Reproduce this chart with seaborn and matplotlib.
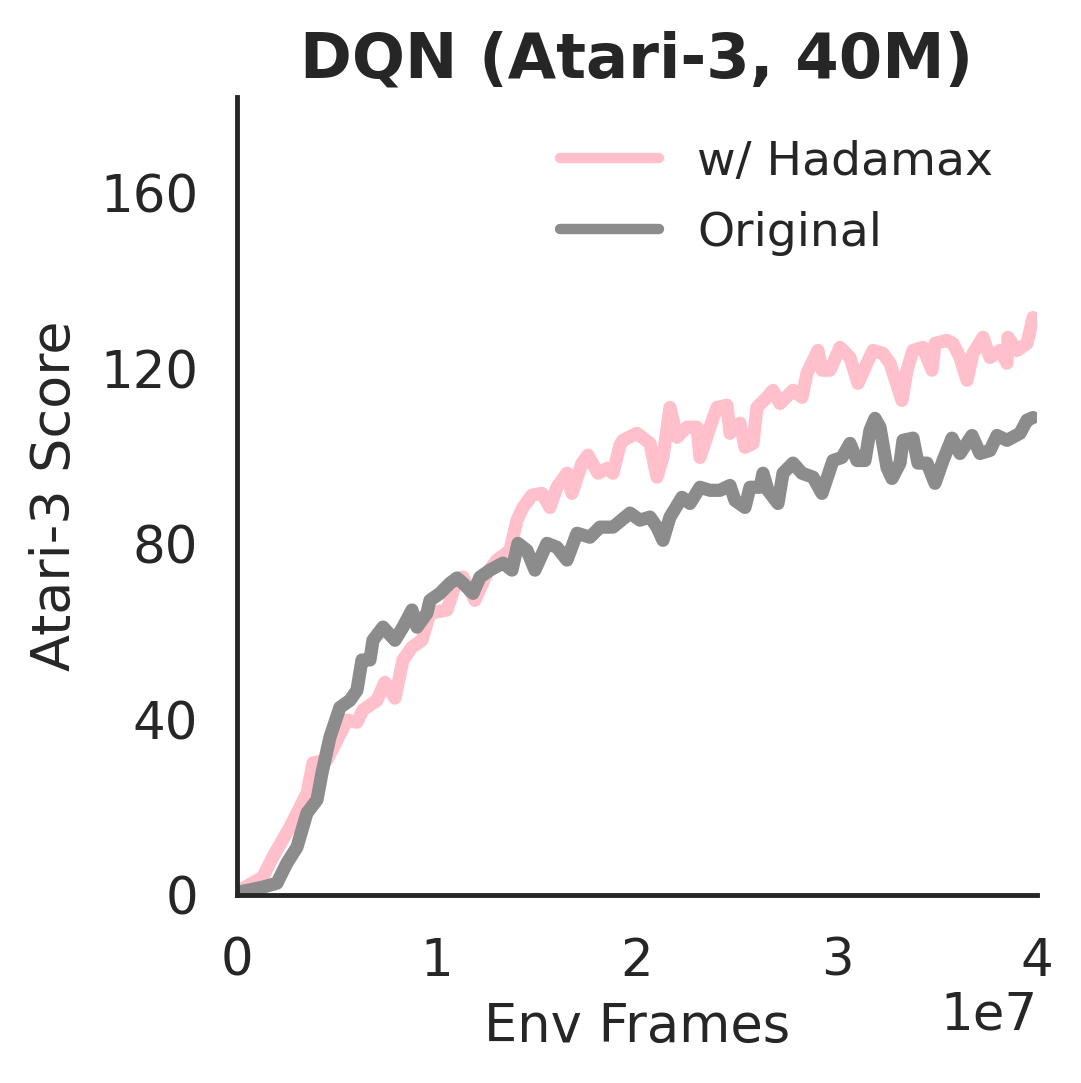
import numpy as np
import pandas as pd
import matplotlib
matplotlib.use("Agg")
import matplotlib.pyplot as plt
import seaborn as sns

# env frames in units of 1e7, scores
hadamax_x = [0.015, 0.13, 0.18, 0.265, 0.35, 0.38, 0.45, 0.50, 0.55, 0.60, 0.63, 0.70,
             0.74, 0.79, 0.83, 0.875, 0.925, 0.965, 1.05, 1.10, 1.13, 1.19, 1.25, 1.30,
             1.365, 1.40, 1.43, 1.475, 1.525, 1.565, 1.60, 1.65, 1.675, 1.725, 1.755,
             1.805, 1.85, 1.88, 1.915, 1.93, 2.00, 2.065, 2.10, 2.13, 2.165, 2.20, 2.25,
             2.30, 2.315, 2.365, 2.40, 2.45, 2.465, 2.515, 2.54, 2.58, 2.60, 2.65, 2.68,
             2.715, 2.78, 2.825, 2.85, 2.905, 2.925, 2.965, 3.015, 3.065, 3.105, 3.15,
             3.18, 3.23, 3.265, 3.325, 3.35, 3.38, 3.43, 3.475, 3.49, 3.55, 3.58, 3.615,
             3.65, 3.68, 3.73, 3.765, 3.815, 3.85, 3.855, 3.90, 3.95, 3.98]
hadamax_y = [1.1, 4.1, 8.7, 15.5, 23.2, 30.1, 30.8, 35.3, 39.9, 39.4, 42.2, 44.4,
             48.5, 44.9, 53.6, 56.5, 58.1, 64.3, 65.0, 71.8, 72.5, 67.2, 73.4, 76.4,
             78.6, 85.5, 88.4, 91.2, 91.6, 88.4, 93.0, 96.2, 91.6, 98.5, 100.3,
             96.2, 97.3, 96.2, 102.6, 103.7, 105.3, 103.0, 95.3, 99.8, 111.2, 104.4, 106.7,
             106.7, 99.8, 106.7, 111.2, 111.7, 105.3, 107.6, 102.1, 103.0, 111.2, 113.5, 115.1,
             112.1, 115.1, 113.5, 119.0, 124.2, 119.7, 119.7, 124.9, 122.6, 116.7, 121.3,
             124.2, 123.5, 121.3, 112.8, 119.7, 124.2, 124.9, 119.7, 125.8, 126.5, 125.8, 122.6,
             117.4, 123.5, 127.2, 122.6, 124.2, 121.3, 127.2, 124.2, 125.8, 131.7]

original_x = [0.015, 0.13, 0.20, 0.25, 0.30, 0.35, 0.40, 0.425, 0.465, 0.515, 0.565, 0.60,
              0.625, 0.665, 0.68, 0.73, 0.79, 0.83, 0.875, 0.90, 0.95, 0.965, 1.015, 1.065,
              1.10, 1.13, 1.18, 1.215, 1.265, 1.33, 1.375, 1.405, 1.45, 1.49, 1.55, 1.60,
              1.65, 1.70, 1.765, 1.815, 1.88, 1.965, 2.015, 2.065, 2.10, 2.13, 2.165, 2.225,
              2.265, 2.315, 2.365, 2.415, 2.465, 2.49, 2.54, 2.565, 2.615, 2.63, 2.655, 2.705,
              2.73, 2.78, 2.825, 2.88, 2.925, 2.98, 3.025, 3.065, 3.10, 3.14, 3.165, 3.19,
              3.215, 3.25, 3.275, 3.315, 3.33, 3.38, 3.405, 3.45, 3.49, 3.53, 3.575, 3.615,
              3.675, 3.715, 3.765, 3.80, 3.85, 3.915, 3.95, 3.98]
original_y = [0.7, 1.8, 2.7, 7.3, 10.9, 18.7, 21.7, 27.8, 36.0, 42.8, 44.4, 46.7,
              53.6, 53.6, 58.1, 61.1, 58.1, 61.1, 65.0, 61.1, 64.3, 67.2, 68.8, 71.1,
              72.3, 71.1, 68.8, 72.5, 74.1, 75.7, 74.1, 80.2, 78.6, 74.1, 80.2, 79.3,
              76.4, 82.5, 81.6, 83.9, 83.9, 87.1, 85.5, 86.2, 83.9, 80.9, 86.2, 90.7,
              89.3, 93.0, 92.3, 92.3, 93.4, 90.0, 88.4, 93.0, 93.0, 96.2, 92.3, 89.3,
              96.2, 98.5, 96.2, 95.3, 91.6, 99.1, 99.8, 103.0, 99.1, 99.1, 106.0, 108.7,
              106.7, 97.5, 95.0, 98.5, 103.7, 104.2, 98.5, 98.5, 93.9, 99.1, 104.2, 100.7,
              104.8, 100.7, 101.4, 104.8, 103.7, 105.3, 108.3, 108.9]

series_names = ["w/ Hadamax", "Original"]
series_colors = ["pink", "#8c8c8c"]
x_ticks = [0, 1e7, 2e7, 3e7, 4e7]
y_ticks = [0, 40, 80, 120, 160]

df = pd.concat([
    pd.DataFrame({"frames": np.array(hadamax_x) * 1e7, "score": hadamax_y, "method": series_names[0]}),
    pd.DataFrame({"frames": np.array(original_x) * 1e7, "score": original_y, "method": series_names[1]}),
])

sns.set_theme(style="white")
plt.rcParams["font.family"] = ["DejaVu Sans"]

fig = plt.figure(figsize=(10.81, 10.83), dpi=100)
ax = fig.add_axes([0.2192, 0.1736, 0.9593 - 0.2192, 0.9104 - 0.1736])

sns.lineplot(data=df, x="frames", y="score", hue="method", hue_order=series_names,
             palette=series_colors, linewidth=9.5, sort=False, ax=ax,
             solid_capstyle="round", solid_joinstyle="round")

ax.set_xlim(0, 4e7)
ax.set_ylim(0, 182)
ax.set_xticks(x_ticks)
ax.set_yticks(y_ticks)
ax.tick_params(axis="both", labelsize=37, colors="#262626")
ax.tick_params(axis="x", pad=24)
ax.tick_params(axis="y", pad=22)
ax.xaxis.get_offset_text().set_fontsize(37)
ax.set_xlabel("Env Frames", fontsize=38, color="#262626", labelpad=10)
ax.set_ylabel("Atari-3 Score", fontsize=39, color="#262626", labelpad=14)
ax.set_title("DQN (Atari-3, 40M)", fontsize=45, fontweight="bold", color="#262626", pad=14)

for side in ["left", "bottom"]:
    ax.spines[side].set_linewidth(3.5)
    ax.spines[side].set_color("#262626")
sns.despine(ax=ax)

leg = ax.legend(frameon=False, fontsize=34, loc="upper right", handlelength=2.1,
                labelspacing=0.55, bbox_to_anchor=(0.998, 1.0))
for line in leg.get_lines():
    line.set_linewidth(7.5)
    line.set_solid_capstyle("round")

fig.savefig("out.png", dpi=100)
